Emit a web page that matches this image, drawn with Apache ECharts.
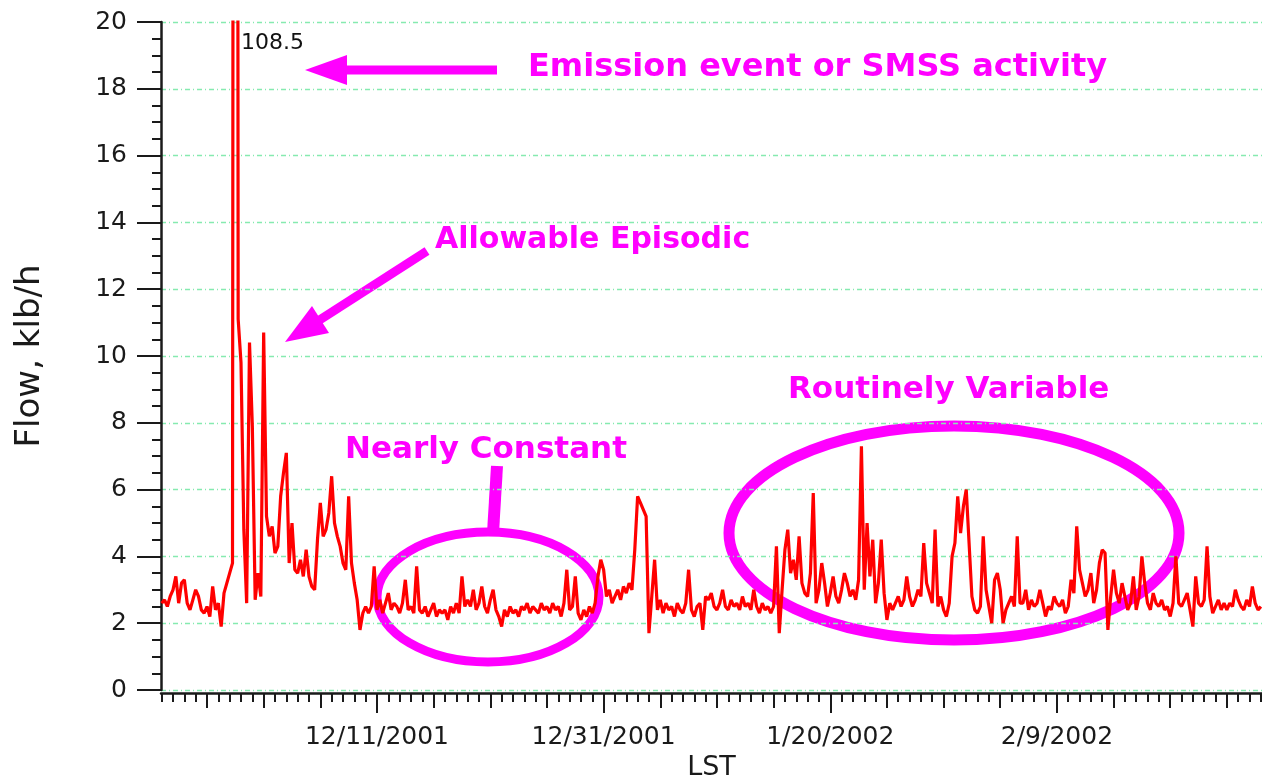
<!DOCTYPE html>
<html><head><meta charset="utf-8">
<script src="https://cdn.jsdelivr.net/npm/echarts@6/dist/echarts.min.js"></script>
<style>html,body{margin:0;padding:0;background:#fff}#c{width:1262px;height:778px}</style>
</head><body><div id="c"></div>
<script>
// ---- data ----
const firstSample = '2001-11-22T00:00:00Z';
const stepHours = 6;
const flow = [
2.6,2.7,2.5,2.8, 3.0,3.4,2.6,3.2, 3.3,2.6,2.4,2.7, 3.0,2.8,2.4,2.3, 2.5,2.2,3.1,2.4,
2.6,1.9,2.9,3.2, 3.5,3.8,108.5,11.1, 9.8,4.8,2.6,10.4, 7.9,2.7,3.5,2.8, 10.7,5.2,4.6,4.9,
4.1,4.3,5.8,6.5, 7.1,3.8,5.0,3.6, 3.5,3.9,3.4,4.2, 3.4,3.1,3.0,4.5, 5.6,4.6,4.8,5.3,
6.4,5.0,4.6,4.3, 3.8,3.6,5.8,3.8, 3.2,2.7,1.8,2.3, 2.5,2.3,2.5,3.7, 2.4,2.7,2.3,2.6,
2.9,2.4,2.6,2.5, 2.3,2.6,3.3,2.4, 2.5,2.3,3.7,2.4, 2.3,2.5,2.2,2.4, 2.6,2.2,2.4,2.3,
2.4,2.1,2.5,2.3, 2.6,2.3,3.4,2.5, 2.7,2.5,3.0,2.4, 2.6,3.1,2.5,2.3, 2.7,3.0,2.4,2.2,
1.9,2.4,2.2,2.5, 2.3,2.4,2.2,2.5, 2.4,2.6,2.3,2.5, 2.4,2.3,2.6,2.4, 2.5,2.3,2.6,2.4,
2.5,2.2,2.6,3.6, 2.4,2.5,3.4,2.3, 2.1,2.4,2.2,2.5, 2.3,2.6,3.4,3.9, 3.6,2.8,3.0,2.6,
2.8,3.0,2.7,3.1, 2.9,3.2,3.0,4.2, 5.8,5.6,5.4,5.2, 1.7,2.8,3.9,2.4, 2.7,2.3,2.6,2.4,
2.5,2.2,2.6,2.4, 2.3,2.6,3.6,2.4, 2.2,2.5,2.6,1.8, 2.8,2.7,2.9,2.5, 2.4,2.6,3.0,2.5,
2.4,2.7,2.5,2.6, 2.4,2.8,2.5,2.6, 2.4,3.0,2.5,2.3, 2.6,2.4,2.5,2.3, 2.5,4.3,1.7,3.0,
4.2,4.8,3.5,3.9, 3.3,4.6,3.2,2.9, 2.8,3.5,5.9,2.6, 3.0,3.8,3.2,2.5, 2.9,3.4,2.8,2.6,
3.0,3.5,3.2,2.8, 3.0,2.7,3.3,7.3, 3.0,5.0,3.4,4.5, 2.6,3.2,4.5,2.9, 2.1,2.6,2.4,2.6,
2.8,2.5,2.7,3.4, 2.8,2.5,2.7,3.0, 2.8,4.4,3.2,2.9, 2.6,4.8,2.5,2.8, 2.4,2.2,2.6,4.0,
4.4,5.8,4.7,5.5, 6.0,4.4,2.8,2.4, 2.3,2.5,4.6,3.0, 2.5,2.0,3.3,3.5, 3.0,2.0,2.4,2.6,
2.8,2.5,4.6,2.6, 2.6,3.0,2.4,2.7, 2.5,2.6,3.0,2.6, 2.2,2.5,2.4,2.8, 2.6,2.5,2.7,2.3,
2.5,3.3,2.9,4.9, 3.6,3.2,2.8,3.0, 3.5,2.6,3.0,3.8, 4.2,4.1,1.8,2.8, 3.6,2.9,2.6,3.2,
2.8,2.4,2.6,3.4, 2.4,2.8,4.0,3.2, 2.6,2.4,2.9,2.6, 2.5,2.7,2.4,2.5, 2.2,2.6,4.0,2.6,
2.5,2.7,2.9,2.4, 1.9,3.4,2.6,2.5, 2.7,4.3,2.8,2.3, 2.5,2.7,2.4,2.6, 2.4,2.6,2.5,3.0,
2.7,2.5,2.4,2.7, 2.5,3.1,2.6,2.4, 2.5
];
const tickDates = ['2001-12-11', '2001-12-31', '2002-01-20', '2002-02-09'];
const tickLabels = ['12/11/2001', '12/31/2001', '1/20/2002', '2/9/2002'];
const spikeLabel = '108.5';
const notes = ['Emission event or SMSS activity', 'Allowable Episodic', 'Nearly Constant', 'Routinely Variable'];

// ---- build ----
const DAY = 86400000;
const origin = Date.parse('2001-11-21T00:00:00Z');
const dayOf = s => (Date.parse(s) - origin) / DAY;
const t0 = dayOf(firstSample);
const seriesData = flow.map((v, i) => [t0 + i * stepHours / 24, v]);
const majorDays = tickDates.map(d => dayOf(d + 'T00:00:00Z'));
const xMin = 0.94, xMax = 98.1;
const dailyTicks = [];
for (let d = Math.ceil(xMin); d <= xMax; d++) dailyTicks.push(d);
const fiveTicks = dailyTicks.filter(d => d % 5 === 0);

const ink = '#1a1a1a';
const mag = '#ff00ff';
const baseX = {
  type: 'value', min: xMin, max: xMax, position: 'bottom', offset: 3,
  splitLine: { show: false }
};
const noteStyle = (t, size) => ({ text: t, fill: mag, font: 'bold ' + size + 'px "DejaVu Sans"', textAlign: 'left', textVerticalAlign: 'middle', align: 'left', verticalAlign: 'middle' });
const chart = echarts.init(document.getElementById('c'), null, { renderer: 'canvas' });
chart.setOption({
  animation: false,
  backgroundColor: '#fff',
  grid: { left: 161, right: 0, top: 22, bottom: 88, containLabel: false, outerBoundsMode: 'none' },
  xAxis: [
    Object.assign({}, baseX, {
      axisLine: { show: true, onZero: false, lineStyle: { color: ink, width: 2.5 } },
      axisTick: { show: true, customValues: majorDays, length: 20, lineStyle: { color: ink, width: 2 } },
      axisLabel: {
        customValues: majorDays, margin: 32, fontSize: 25, color: '#1a1a1a', fontFamily: 'DejaVu Sans',
        formatter: v => { const i = majorDays.findIndex(d => Math.abs(d - v) < 1e-6); return i < 0 ? '' : tickLabels[i]; }
      },
      name: 'LST', nameLocation: 'middle', nameGap: 57,
      nameTextStyle: { fontSize: 27, color: '#1a1a1a', fontFamily: 'DejaVu Sans' }
    }),
    Object.assign({}, baseX, {
      axisLine: { show: false, onZero: false },
      axisTick: { show: true, customValues: fiveTicks, length: 15, lineStyle: { color: ink, width: 2 } },
      axisLabel: { show: false }
    }),
    Object.assign({}, baseX, {
      axisLine: { show: false, onZero: false },
      axisTick: { show: true, customValues: dailyTicks, length: 9, lineStyle: { color: ink, width: 2 } },
      axisLabel: { show: false }
    })
  ],
  yAxis: {
    type: 'value', min: 0, max: 20, interval: 2,
    axisLine: { show: true, lineStyle: { color: ink, width: 2.5 } },
    axisTick: { show: true, length: 24, lineStyle: { color: ink, width: 2 } },
    minorTick: { show: true, splitNumber: 4, length: 9, lineStyle: { color: ink, width: 2 } },
    splitLine: { show: true, lineStyle: { color: '#86eab0', width: 1.3, type: [5, 3, 1, 3] } },
    axisLabel: { margin: 34, fontSize: 25, color: '#1a1a1a', fontFamily: 'DejaVu Sans' },
    name: 'Flow, klb/h', nameLocation: 'middle', nameGap: 114,
    nameTextStyle: { fontSize: 34, color: '#1a1a1a', fontFamily: 'DejaVu Sans' }
  },
  series: [{
    type: 'line', xAxisIndex: 0, data: seriesData, showSymbol: false, symbol: 'none',
    clip: true, sampling: null,
    lineStyle: { color: '#ff0000', width: 3.2 }
  }],
  graphic: [
    { type: 'text', x: 241, y: 43, style: { text: spikeLabel, fill: '#111', font: '22px "DejaVu Sans"', textAlign: 'left', textVerticalAlign: 'middle', align: 'left', verticalAlign: 'middle' } },
    // arrow 1
    { type: 'line', shape: { x1: 340, y1: 70, x2: 497, y2: 70 }, style: { stroke: mag, lineWidth: 9 } },
    { type: 'polygon', shape: { points: [[305, 70], [347, 55], [347, 85]] }, style: { fill: mag } },
    { type: 'text', x: 528, y: 68, style: noteStyle(notes[0], 32) },
    // arrow 2
    { type: 'line', shape: { x1: 427, y1: 251, x2: 318, y2: 321 }, style: { stroke: mag, lineWidth: 9 } },
    { type: 'polygon', shape: { points: [[285, 342], [329, 333], [312, 306]] }, style: { fill: mag } },
    { type: 'text', x: 435, y: 240, style: noteStyle(notes[1], 30) },
    // nearly constant
    { type: 'text', x: 345, y: 450, style: noteStyle(notes[2], 31) },
    { type: 'line', shape: { x1: 497, y1: 466, x2: 493, y2: 533 }, style: { stroke: mag, lineWidth: 12 } },
    { type: 'ellipse', shape: { cx: 488, cy: 597, rx: 111, ry: 65 }, style: { fill: 'none', stroke: mag, lineWidth: 9 } },
    // routinely variable
    { type: 'text', x: 788, y: 390, style: noteStyle(notes[3], 31) },
    { type: 'ellipse', shape: { cx: 954, cy: 533, rx: 225, ry: 107 }, style: { fill: 'none', stroke: mag, lineWidth: 11 } }
  ]
});
</script></body></html>
